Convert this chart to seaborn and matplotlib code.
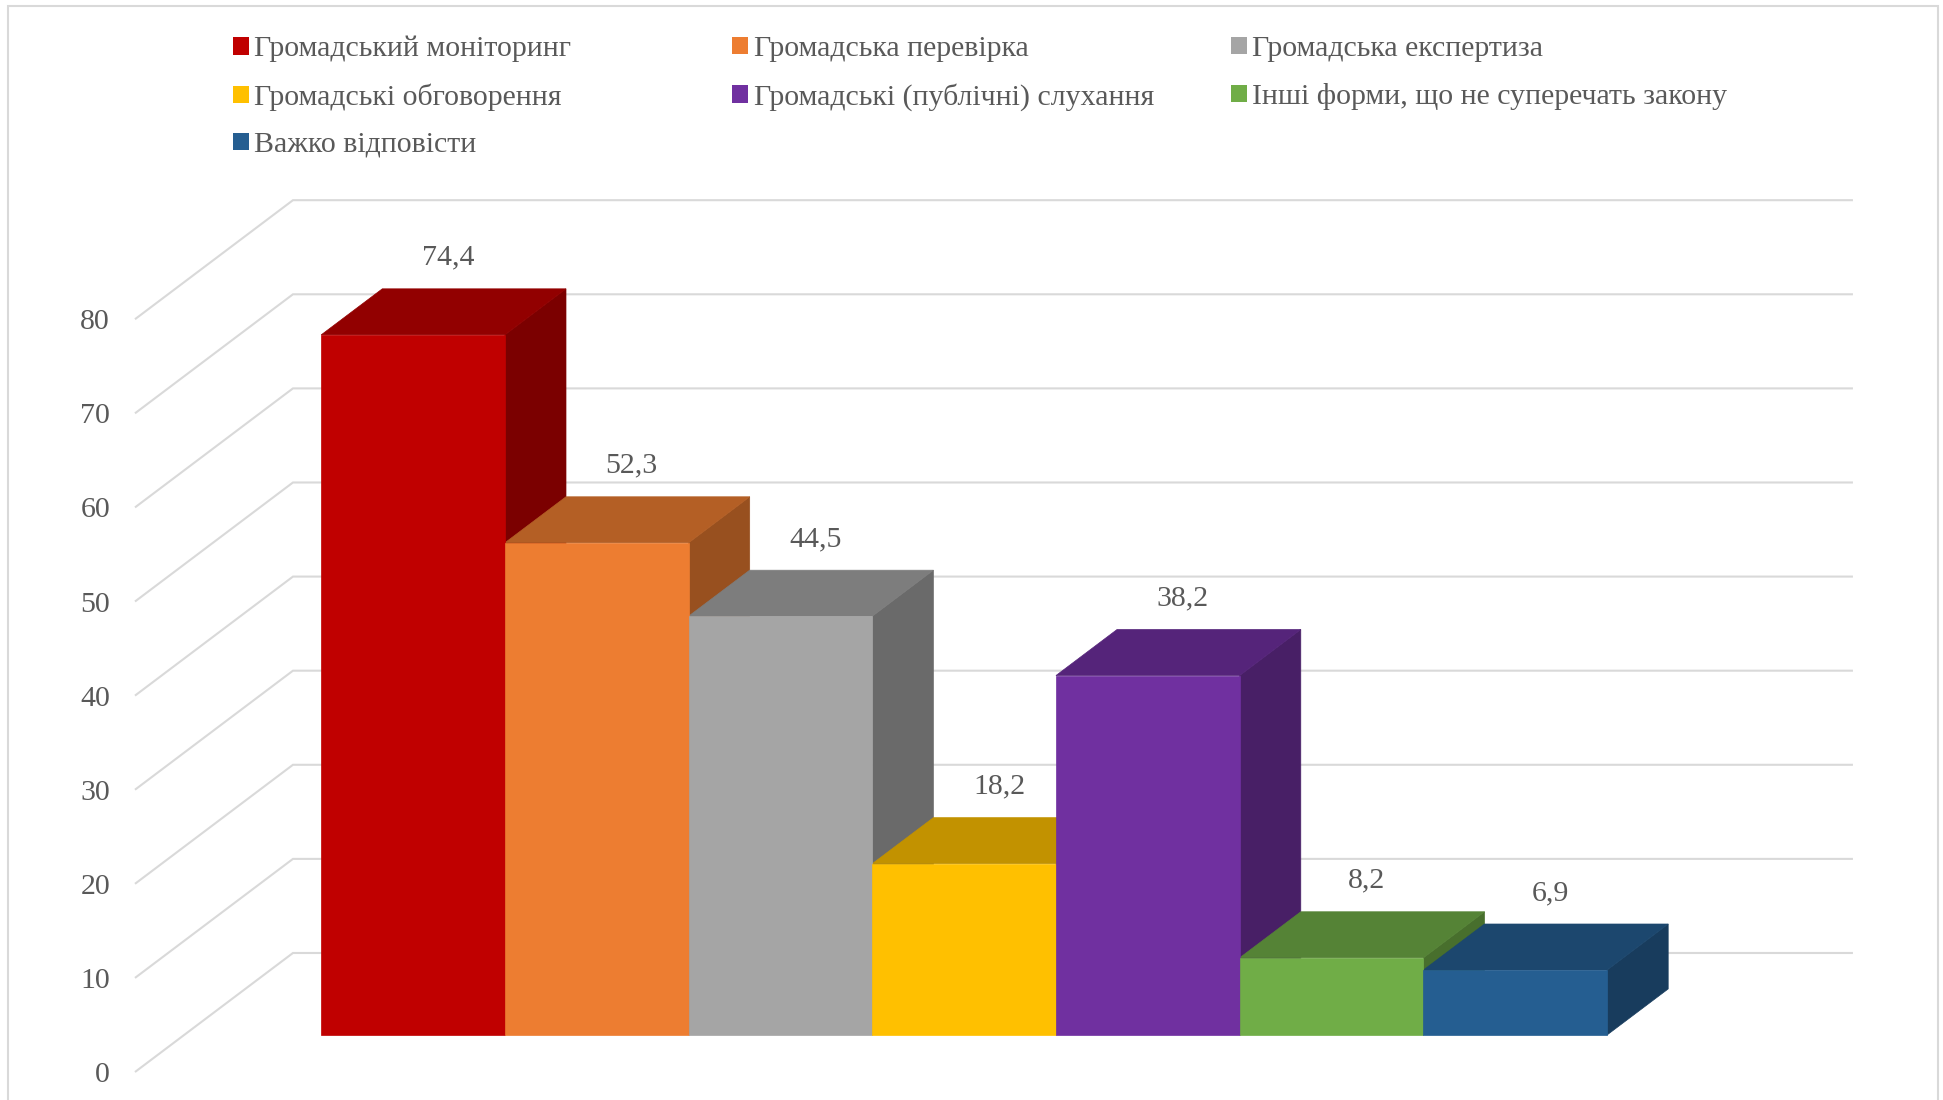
import numpy as np
import pandas as pd
import matplotlib
matplotlib.use("Agg")
import matplotlib.pyplot as plt
import seaborn as sns
from matplotlib.patches import Polygon, Patch, Rectangle
from matplotlib.colors import to_rgb

# ---------------- data ----------------
categories = ["Громадський моніторинг", "Громадська перевірка", "Громадська експертиза",
              "Громадські обговорення", "Громадські (публічні) слухання",
              "Інші форми, що не суперечать закону", "Важко відповісти"]
values = [74.4, 52.3, 44.5, 18.2, 38.2, 8.2, 6.9]
colors = ["#C00000", "#ED7D31", "#A5A5A5", "#FFC000", "#7030A0", "#70AD47", "#255E91"]
y_ticks = [0, 10, 20, 30, 40, 50, 60, 70, 80]
legend_columns = [[0, 3, 6], [1, 4], [2, 5]]

# ---------------- style ----------------
sns.set_style("white")
plt.rcParams['font.family'] = ['Liberation Serif', 'DejaVu Serif']
TXT = "#595959"
GRID = "#D9D9D9"
FS = 21.5

W, H = 1943, 1100
fig = plt.figure(figsize=(W / 100, H / 100), dpi=100)
ax = fig.add_axes([0, 0, 1, 1])

df = pd.DataFrame({"cat": categories, "val": values})
sns.barplot(data=df, x="cat", y="val", hue="cat", order=categories, hue_order=categories,
            palette=colors, saturation=1, width=1.0, linewidth=0, errorbar=None,
            legend=False, ax=ax)

bars = sorted([p for p in ax.patches if isinstance(p, Rectangle)], key=lambda p: p.get_x())
for p in bars:
    p.set_zorder(3)
    p.set_edgecolor(p.get_facecolor())
    p.set_linewidth(0.5)

# ---------------- oblique projection geometry ----------------
px_per_cat, px_per_unit = 183.7, 9.41
x0_px, y0_px = 413, 1035
ax.set_xlim(-x0_px / px_per_cat, (W - x0_px) / px_per_cat)
ax.set_ylim((y0_px - H) / px_per_unit, y0_px / px_per_unit)

DX, DY = 0.86, 12.65      # full depth vector (front wall -> back wall)
f0 = 0.311                # depth of bar front relative to front wall
fb = 0.387                # bar depth (fraction of full depth)
db = 1 - f0               # back wall depth relative to bar front plane
xL, xR = -1.246, 7.246    # wall extents along category axis


def P(x, y, d):
    return x + d * DX, y + d * DY


# walls gridlines
for v in y_ticks:
    a = P(xL, v, -f0)
    b = P(xL, v, db)
    c = P(xR, v, db)
    ax.plot([a[0], b[0], c[0]], [a[1], b[1], c[1]], color=GRID, lw=1.5, zorder=1,
            solid_joinstyle="miter", solid_capstyle="butt")


def shade(c, k):
    r, g, b = to_rgb(c)
    return (r * k, g * k, b * k)


bdx, bdy = fb * DX, fb * DY
for i, p in enumerate(bars):
    x0, w, h = p.get_x(), p.get_width(), p.get_height()
    fc = p.get_facecolor()
    top = [(x0, h), (x0 + w, h), (x0 + w + bdx, h + bdy), (x0 + bdx, h + bdy)]
    side = [(x0 + w, 0), (x0 + w, h), (x0 + w + bdx, h + bdy), (x0 + w + bdx, bdy)]
    tc, sc = shade(fc, 0.76), shade(fc, 0.64)
    ax.add_patch(Polygon(side, closed=True, fc=sc, ec=sc, lw=0.5, zorder=2 + i * 0.01))
    ax.add_patch(Polygon(top, closed=True, fc=tc, ec=tc, lw=0.5, zorder=2.005 + i * 0.01))
    ax.text(x0 + w / 2 + 0.19, h + 8.2, f"{h:.1f}".replace(".", ","), ha="center",
            va="center", fontsize=FS, color=TXT, zorder=5)

# y axis labels on the front edge of the side wall
sec = ax.secondary_yaxis(135 / W, functions=(lambda y: y + f0 * DY, lambda v: v - f0 * DY))
sec.set_yticks(y_ticks)
sec.set_yticklabels([str(t) for t in y_ticks])
sec.tick_params(length=0, pad=18, labelsize=FS, labelcolor=TXT)
for s in sec.spines.values():
    s.set_visible(False)

ax.set_xticks([])
ax.set_yticks([])
ax.set_xlabel("")
ax.set_ylabel("")
for s in ax.spines.values():
    s.set_visible(False)
ax.patch.set_alpha(0)

# chart border
fig.add_artist(Rectangle((8 / W, -0.02), (1938 - 8) / W, 1.02 - 6 / H, transform=fig.transFigure,
                         fill=False, ec=GRID, lw=1.5))

# legend (three columns)
col_x = [233, 732, 1231]
for xs, items in zip(col_x, legend_columns):
    handles = [Patch(fc=colors[k], ec="none") for k in items]
    labels = [categories[k] for k in items]
    fig.legend(handles=handles, labels=labels, loc="upper left",
               bbox_to_anchor=(xs / W, 1 - 36 / H), bbox_transform=fig.transFigure,
               frameon=False, fontsize=FS, labelcolor=TXT, handlelength=0.52,
               handleheight=0.52, handletextpad=0.2, labelspacing=0.7,
               borderpad=0, borderaxespad=0)

fig.savefig("out.png", dpi=100)
